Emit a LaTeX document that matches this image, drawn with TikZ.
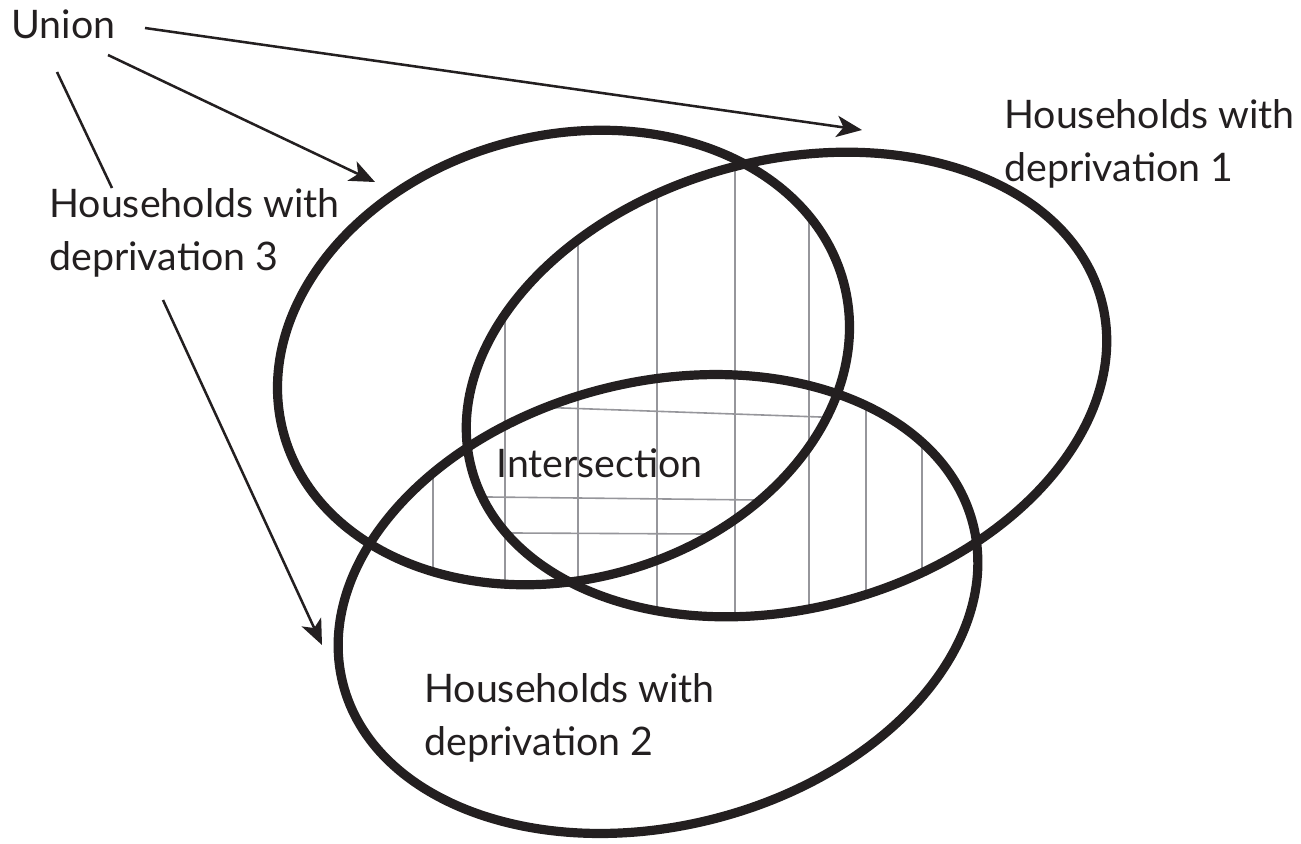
\documentclass[tikz,border=0pt]{standalone}
\usepackage{fontspec}
\setmainfont{Lato}
\usetikzlibrary{arrows.meta}
\definecolor{ink}{RGB}{35,31,32}
\definecolor{hatchgray}{RGB}{150,150,155}
\begin{document}
\begin{tikzpicture}[x=0.75pt,y=-0.75pt,
  lbl/.style={font=\fontsize{29.5}{39.5}\selectfont, align=left, inner sep=0pt, anchor=base west, text=ink},
  ring/.style={line width=6.9pt, draw=ink},
  conn/.style={line width=1.9pt, draw=ink},
  arr/.style={conn, -{Stealth[length=19pt,width=16pt,inset=5pt]}},
  hatch/.style={line width=1.2pt, draw=hatchgray},
  ellA/.style={shift={(563.5,357.5)}, rotate=15},
  ellB/.style={shift={(786.5,384.5)}, rotate=15},
  ellC/.style={shift={(658,604)}, rotate=14.1}]
\useasboundingbox (0,0) rectangle (1301,843);

% vertical hatching: regions where at least two sets overlap
\begin{scope}
  \clip[ellA] (0,0) ellipse [x radius=290, y radius=222];
  \clip[ellB] (0,0) ellipse [x radius=326, y radius=224];
  \foreach \x in {433,505,578,657,735,809,866,922} \draw[hatch] (\x,100) -- (\x,800);
\end{scope}
\begin{scope}
  \clip[ellA] (0,0) ellipse [x radius=290, y radius=222];
  \clip[ellC] (0,0) ellipse [x radius=325, y radius=222];
  \foreach \x in {433,505,578,657,735,809,866,922} \draw[hatch] (\x,100) -- (\x,800);
\end{scope}
\begin{scope}
  \clip[ellB] (0,0) ellipse [x radius=326, y radius=224];
  \clip[ellC] (0,0) ellipse [x radius=325, y radius=222];
  \foreach \x in {433,505,578,657,735,809,866,922} \draw[hatch] (\x,100) -- (\x,800);
\end{scope}
% horizontal hatching: triple intersection
\begin{scope}
  \clip[ellA] (0,0) ellipse [x radius=290, y radius=222];
  \clip[ellB] (0,0) ellipse [x radius=326, y radius=224];
  \clip[ellC] (0,0) ellipse [x radius=325, y radius=222];
  \draw[hatch] (400,402.3) -- (900,419.8);
  \draw[hatch] (400,496) -- (900,501.6);
  \draw[hatch] (400,532.4) -- (900,535);
\end{scope}

% the three sets
\draw[ring, ellA] (0,0) ellipse [x radius=290, y radius=222];
\draw[ring, ellB] (0,0) ellipse [x radius=326, y radius=224];
\draw[ring, ellC] (0,0) ellipse [x radius=325, y radius=222];

% labels (base anchor = baseline of the last line)
\node[lbl] (union) at (11,38) {Union};
\node[lbl] (d1) at (1004,181) {Households with\\deprivation 1};
\node[lbl] (d3) at (49,270) {Households with\\deprivation 3};
\node[lbl] (d2) at (424,755) {Households with\\deprivation 2};
\node[lbl] (inter) at (496,477) {Intersection};

% connectors
\coordinate (u1s) at (145,28);  \coordinate (u1e) at (862,130);
\coordinate (u2s) at (108,55);  \coordinate (u2e) at (375,182);
\coordinate (u3s) at (57,72);   \coordinate (u3e) at (112,188);
\coordinate (d3s) at (163,300); \coordinate (d3e) at (322,645);
\draw[arr] (u1s) -- (u1e);
\draw[arr] (u2s) -- (u2e);
\draw[conn] (u3s) -- (u3e);
\draw[arr] (d3s) -- (d3e);
\end{tikzpicture}
\end{document}
